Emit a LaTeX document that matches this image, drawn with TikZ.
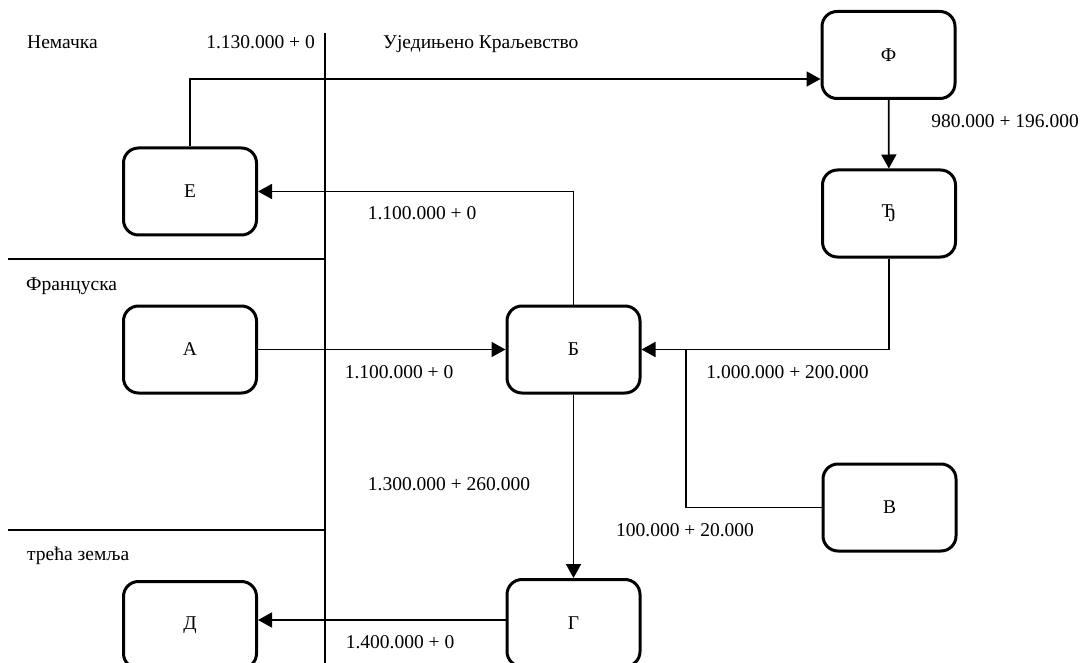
\documentclass[tikz,border=0pt]{standalone}
\usepackage{fontspec}
\setmainfont{Liberation Serif}
\usetikzlibrary{arrows.meta, calc}
\tikzset{>={Triangle[length=14pt,width=15pt]}}

\begin{document}
\begin{tikzpicture}[x=1pt, y=-1pt, font=\fontsize{19.5}{23}\selectfont,
		box/.style={draw, line width=3pt, rounded corners=15pt, minimum width=133pt, minimum height=87pt, inner sep=0pt},
		link/.style={line width=1.8pt},
		lbl/.style={inner sep=0pt, anchor=base}]
			\useasboundingbox (0,0) rectangle (1087,663);
			\clip (0,0) rectangle (1087,663);
			% borders between countries
			\draw [link] (325,33) -- (325,663);
			\draw [link] (8,259) -- (325,259);
			\draw [link] (8,530) -- (325,530);
			\node[lbl, anchor=base west] (nem) at (27,49) {Немачка};
			\node[lbl, anchor=base east] (nemsum) at (315,49) {1.130.000 + 0};
			\node[lbl, anchor=base west] (uk) at (383,49) {Уједињено Краљевство};
			\node[lbl, anchor=base west] (fra) at (26,290) {Француска};
			\node[lbl, anchor=base west] (treca) at (27,560) {трећа земља};
			% firms
			\node[box] (e) at (190,191.5) {Е};
			\node[box] (f) at (888.5,55) {Ф};
			\node[box] (dj) at (889,213.5) {Ђ};
			\node[box] (a) at (190,349.5) {А};
			\node[box] (b) at (573.5,349.5) {Б};
			\node[box] (v) at (889.5,507.5) {В};
			\node[box] (g) at (573.5,623) {Г};
			\node[box] (d) at (190,625) {Д};
			\coordinate (fin) at ($(f.west)+(0,24)$);
			\coordinate (gout) at ($(g.west)+(0,-3)$);
			\coordinate (join) at (686,349.5);
			% flows
			\draw [link, ->] (e.north) |- (fin);
			\draw [link, ->] (f) -- (dj);
			\draw [link, ->] (b.north) |- (e.east);
			\draw [link, ->] (dj.south) |- (b.east);
			\draw [link] (v.west) -| (join);
			\draw [link, ->] (a) -- (b);
			\draw [link, ->] (b) -- (g);
			\draw [link, ->] (gout) -- (gout -| d.east);
			\node[lbl] (fdj) at (1005,128) {980.000 + 196.000};
			\node[lbl] (be) at (422,220) {1.100.000 + 0};
			\node[lbl] (ab) at (399,378) {1.100.000 + 0};
			\node[lbl] (djb) at (787.5,378) {1.000.000 + 200.000};
			\node[lbl] (vb) at (685,536) {100.000 + 20.000};
			\node[lbl] (bg) at (449,490) {1.300.000 + 260.000};
			\node[lbl] (gd) at (400,648) {1.400.000 + 0};
		\end{tikzpicture}
\end{document}
